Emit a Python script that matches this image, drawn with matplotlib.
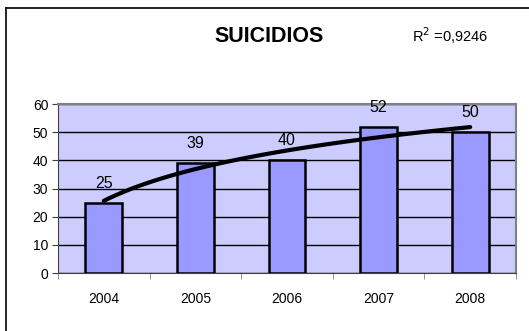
import numpy as np
import matplotlib
matplotlib.use("Agg")
import matplotlib.pyplot as plt
from matplotlib.lines import Line2D

years = ["2004", "2005", "2006", "2007", "2008"]
suicidios = [25, 39, 40, 52, 50]
r2_label = "R$^2$ =0,9246"

plt.rcParams["font.family"] = ["Liberation Sans", "DejaVu Sans"]

fig = plt.figure(figsize=(5.29, 3.31), dpi=100)
ax = fig.add_axes([0.1096, 0.1752, 0.8658, 0.5106])
ax.set_facecolor("#CCCCFF")

x = np.arange(len(years))
ax.bar(x, suicidios, width=0.4, color="#9999FF", edgecolor="black",
       linewidth=1.8, zorder=3)
for xi, v in zip(x, suicidios):
    ax.annotate(str(v), (xi, v), xytext=(0, 14), textcoords="offset points",
                ha="center", va="center", fontsize=11.5, zorder=5)

# logarithmic trend line (as in the spreadsheet), fitted to the bar values
lx = np.log(x + 1)
a, b = np.polyfit(lx, suicidios, 1)
xs = np.linspace(0, len(years) - 1, 60)
ax.plot(xs, a * np.log(xs + 1) + b, color="black", lw=3,
        solid_capstyle="round", zorder=4)

ax.set_xlim(-0.5, len(years) - 0.5)
ax.set_ylim(0, 60)
ax.set_yticks(range(0, 61, 10))
ax.yaxis.grid(True, color="black", lw=1.0, zorder=1)
ax.set_axisbelow(True)

ax.set_xticks(x)
ax.set_xticklabels(years, fontsize=10)
ax.tick_params(axis="x", length=0, pad=14)
ax.set_xticks(np.arange(-0.5, len(years)), minor=True)
ax.tick_params(axis="x", which="minor", length=4, color="#808080", direction="out")
ax.tick_params(axis="y", labelsize=10, length=4, pad=3, color="#404040")

for side in ("top", "right"):
    ax.spines[side].set_color("#808080")
    ax.spines[side].set_linewidth(1.5)
ax.spines["left"].set_color("#404040")
ax.spines["bottom"].set_color("#404040")

fig.text(0.509, 0.891, "SUICIDIOS", ha="center", va="center",
         fontsize=15.5, fontweight="bold")
fig.text(0.778, 0.893, r2_label, ha="left", va="center", fontsize=10.5)

# chart frame: only the left and top edges fall inside the picture
fig.add_artist(Line2D([0.0115, 0.0115], [0, 0.976], color="black", lw=1.2,
                      transform=fig.transFigure))
fig.add_artist(Line2D([0.0115, 1.0], [0.976, 0.976], color="black", lw=1.2,
                      transform=fig.transFigure))

fig.savefig("out.png", dpi=100)
